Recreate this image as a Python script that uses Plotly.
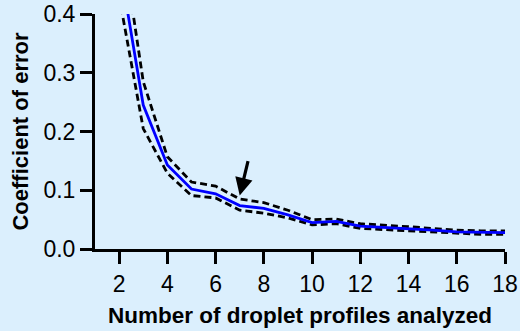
import plotly.graph_objects as go

n_profiles = [2, 3, 4, 5, 6, 7, 8, 9, 10, 11, 12, 13, 14, 15, 16, 17, 18]
coef_error = [0.49, 0.245, 0.143, 0.102, 0.094, 0.074, 0.069, 0.058, 0.045,
              0.047, 0.039, 0.037, 0.034, 0.032, 0.029, 0.028, 0.028]
upper_bound = [0.56, 0.285, 0.157, 0.114, 0.107, 0.085, 0.079, 0.066, 0.050,
               0.051, 0.043, 0.041, 0.038, 0.035, 0.032, 0.031, 0.031]
lower_bound = [0.43, 0.205, 0.129, 0.091, 0.087, 0.066, 0.061, 0.053, 0.041,
               0.043, 0.035, 0.033, 0.031, 0.029, 0.026, 0.025, 0.025]
x_ticks = [2, 4, 6, 8, 10, 12, 14, 16, 18]
y_ticks = [0.0, 0.1, 0.2, 0.3, 0.4]

bg = "#DBEFFD"
font = "Liberation Sans, Arial, sans-serif"

fig = go.Figure()
for band in (upper_bound, lower_bound):
    fig.add_trace(go.Scatter(x=n_profiles, y=band, mode="lines",
                             line=dict(color="black", width=2.8, dash="7px,4px"),
                             showlegend=False, hoverinfo="skip"))
fig.add_trace(go.Scatter(x=n_profiles, y=coef_error, mode="lines",
                         line=dict(color="#0000FF", width=2.8),
                         showlegend=False))

fig.add_annotation(x=7.0, y=0.091, ax=7.36, ay=0.152, xref="x", yref="y",
                   axref="x", ayref="y", showarrow=True, arrowhead=2,
                   arrowsize=1.1, arrowwidth=3.2, arrowcolor="black", text="")

fig.update_layout(
    width=520, height=331,
    margin=dict(l=95, r=15, t=14, b=82),
    paper_bgcolor=bg, plot_bgcolor=bg,
    font=dict(family=font, size=22, color="black"),
    xaxis=dict(range=[1, 18], tickvals=x_ticks, ticks="outside", ticklen=12,
               tickwidth=2.5, tickcolor="black", showline=True, linewidth=3,
               linecolor="black", showgrid=False, zeroline=False,
               automargin=False, tickfont=dict(size=23),
               title=dict(text="<b>Number of droplet profiles analyzed</b>",
                          font=dict(size=22.5), standoff=12)),
    yaxis=dict(range=[0, 0.4], tickvals=y_ticks, tickformat=".1f",
               ticks="outside", ticklen=12, tickwidth=2.5, tickcolor="black",
               showline=True, linewidth=3, linecolor="black", showgrid=False,
               zeroline=False, automargin=False, tickfont=dict(size=23),
               title=dict(text="<b>Coefficient of error</b>",
                          font=dict(size=22), standoff=9)),
)

fig.write_html("out.html")
